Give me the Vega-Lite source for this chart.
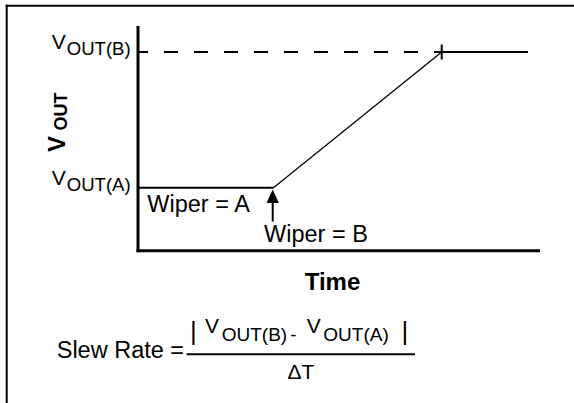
{
  "$schema": "https://vega.github.io/schema/vega-lite/v6.json",
  "width": 574,
  "height": 403,
  "autosize": {"type": "fit", "contains": "padding"},
  "padding": 0,
  "background": "white",
  "config": {
    "view": {"stroke": null},
    "mark": {"color": "black"},
    "text": {"font": "Liberation Sans", "baseline": "alphabetic"}
  },
  "datasets": {
    "frame": [
      {"time": -3.266, "vout": 6.19, "time2": -3.266, "vout2": -3.8324},
      {"time": -3.291, "vout": 6.165, "time2": 10.8458, "vout2": 6.165}
    ],
    "axes": [
      {"time": 0, "vout": 5.617, "time2": 0, "vout2": 0},
      {"time": 0, "vout": 0, "time2": 9.963, "vout2": 0}
    ],
    "levels": [
      {"segment": "wiper A level", "time": 0, "vout": 1.585, "time2": 3.37, "vout2": 1.585},
      {"segment": "wiper B level", "time": 7.555, "vout": 5.0, "time2": 9.701, "vout2": 5.0},
      {"segment": "settle mark", "time": 7.555, "vout": 4.81, "time2": 7.555, "vout2": 5.19},
      {"segment": "arrow shaft", "time": 3.351, "vout": 1.2, "time2": 3.351, "vout2": 0.735},
      {"segment": "fraction bar", "time": 1.211, "vout": -2.607, "time2": 6.891, "vout2": -2.607}
    ],
    "target": [
      {"time": 0, "vout": 5.0, "time2": 7.555, "vout2": 5.0}
    ],
    "ramp": [
      {"time": 3.37, "vout": 1.585, "time2": 7.555, "vout2": 5.0}
    ],
    "arrowHead": [
      {"time": 3.351, "vout": 1.369}
    ],
    "labels": [
      {"text": "V", "time": -2.147, "vout": 5.068, "role": "level"},
      {"text": "OUT(B)", "time": -1.774, "vout": 4.917, "role": "levelSub"},
      {"text": "V", "time": -2.147, "vout": 1.653, "role": "level"},
      {"text": "OUT(A)", "time": -1.774, "vout": 1.502, "role": "levelSub"},
      {"text": "V", "time": -1.816, "vout": 2.484, "role": "yTitle"},
      {"text": "OUT", "time": -1.774, "vout": 3.025, "role": "yTitleSub"},
      {"text": "Wiper = A", "time": 0.231, "vout": 0.966, "role": "note"},
      {"text": "Wiper = B", "time": 3.134, "vout": 0.226, "role": "note"},
      {"text": "Time", "time": 4.838, "vout": -0.989, "role": "axisTitle"},
      {"text": "Slew Rate =", "time": -2.022, "vout": -2.708, "role": "note"},
      {"text": "|", "time": 1.291, "vout": -2.247, "role": "bar"},
      {"text": "V", "time": 1.667, "vout": -2.079, "role": "formula"},
      {"text": "OUT(B)", "time": 2.082, "vout": -2.272, "role": "formulaSub"},
      {"text": "-", "time": 3.79, "vout": -2.272, "role": "formulaSub"},
      {"text": "V", "time": 4.197, "vout": -2.079, "role": "formula"},
      {"text": "OUT(A)", "time": 4.609, "vout": -2.272, "role": "formulaSub"},
      {"text": "|", "time": 6.557, "vout": -2.247, "role": "bar"},
      {"text": "ΔT", "time": 4.055, "vout": -3.228, "role": "delta"}
    ]
  },
  "encoding": {
    "x": {"field": "time", "type": "quantitative", "scale": {"domain": [-3.4328, 10.8458], "nice": false, "zero": false}, "axis": null},
    "y": {"field": "vout", "type": "quantitative", "scale": {"domain": [-3.8324, 6.3085], "nice": false, "zero": false}, "axis": null}
  },
  "layer": [
    {
      "data": {"name": "frame"},
      "mark": {"type": "rule", "strokeWidth": 2, "clip": true},
      "encoding": {"x2": {"field": "time2"}, "y2": {"field": "vout2"}}
    },
    {
      "data": {"name": "target"},
      "mark": {"type": "rule", "strokeWidth": 2, "strokeDash": [14, 16], "strokeDashOffset": 4},
      "encoding": {"x2": {"field": "time2"}, "y2": {"field": "vout2"}}
    },
    {
      "data": {"name": "ramp"},
      "mark": {"type": "rule", "strokeWidth": 1.3},
      "encoding": {"x2": {"field": "time2"}, "y2": {"field": "vout2"}}
    },
    {
      "data": {"name": "levels"},
      "mark": {"type": "rule", "strokeWidth": 2},
      "encoding": {"x2": {"field": "time2"}, "y2": {"field": "vout2"}}
    },
    {
      "data": {"name": "axes"},
      "mark": {"type": "rule", "strokeWidth": 3, "strokeCap": "square"},
      "encoding": {"x2": {"field": "time2"}, "y2": {"field": "vout2"}}
    },
    {
      "data": {"name": "arrowHead"},
      "mark": {"type": "point", "shape": "M0,-1L-0.92,1L0.92,1Z", "size": 180, "filled": true, "opacity": 1, "strokeWidth": 0}
    },
    {
      "data": {"name": "labels"},
      "transform": [{"filter": "datum.role === 'level'"}],
      "mark": {"type": "text", "fontSize": 21, "align": "left"},
      "encoding": {"text": {"field": "text"}}
    },
    {
      "data": {"name": "labels"},
      "transform": [{"filter": "datum.role === 'levelSub'"}],
      "mark": {"type": "text", "fontSize": 18.6, "align": "left"},
      "encoding": {"text": {"field": "text"}}
    },
    {
      "data": {"name": "labels"},
      "transform": [{"filter": "datum.role === 'note'"}],
      "mark": {"type": "text", "fontSize": 23.5, "align": "left"},
      "encoding": {"text": {"field": "text"}}
    },
    {
      "data": {"name": "labels"},
      "transform": [{"filter": "datum.role === 'formula'"}],
      "mark": {"type": "text", "fontSize": 21, "align": "left"},
      "encoding": {"text": {"field": "text"}}
    },
    {
      "data": {"name": "labels"},
      "transform": [{"filter": "datum.role === 'bar'"}],
      "mark": {"type": "text", "fontSize": 26, "align": "left"},
      "encoding": {"text": {"field": "text"}}
    },
    {
      "data": {"name": "labels"},
      "transform": [{"filter": "datum.role === 'formulaSub'"}],
      "mark": {"type": "text", "fontSize": 19, "align": "left"},
      "encoding": {"text": {"field": "text"}}
    },
    {
      "data": {"name": "labels"},
      "transform": [{"filter": "datum.role === 'delta'"}],
      "mark": {"type": "text", "fontSize": 21, "align": "center"},
      "encoding": {"text": {"field": "text"}}
    },
    {
      "data": {"name": "labels"},
      "transform": [{"filter": "datum.role === 'axisTitle'"}],
      "mark": {"type": "text", "fontSize": 24, "fontWeight": "bold", "align": "center"},
      "encoding": {"text": {"field": "text"}}
    },
    {
      "data": {"name": "labels"},
      "transform": [{"filter": "datum.role === 'yTitle'"}],
      "mark": {"type": "text", "fontSize": 24, "fontWeight": "bold", "align": "left", "angle": 270},
      "encoding": {"text": {"field": "text"}}
    },
    {
      "data": {"name": "labels"},
      "transform": [{"filter": "datum.role === 'yTitleSub'"}],
      "mark": {"type": "text", "fontSize": 18, "fontWeight": "bold", "align": "left", "angle": 270},
      "encoding": {"text": {"field": "text"}}
    }
  ]
}
